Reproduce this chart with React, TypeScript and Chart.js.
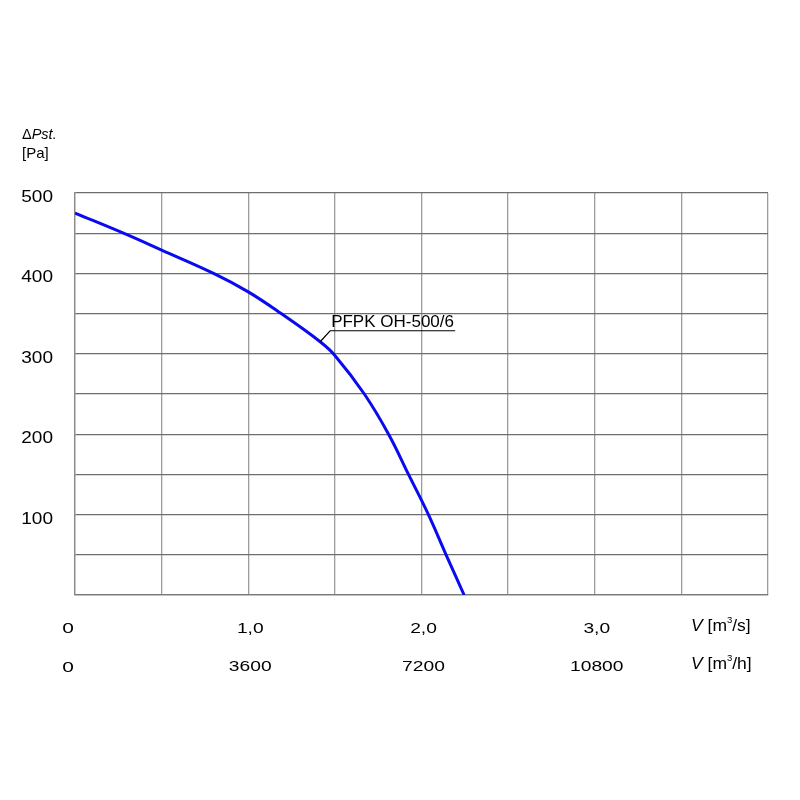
import { useEffect, useRef } from "react";
import { Chart, registerables } from "chart.js";

Chart.register(...registerables);

// ---- data ----
const flowM3s = [0, 0.28, 0.5, 0.8, 1.0, 1.19, 1.415, 1.5, 1.67, 1.81, 1.925, 2.04, 2.142, 2.246];
const pressurePa = [475, 450, 429, 400, 377, 350, 315, 298, 250, 200, 150, 100, 50, 0];
const seriesName = "PFPK OH-500/6";
const yTickValues = [100, 200, 300, 400, 500];
const yTickLabels = ["100", "200", "300", "400", "500"];
const xTickValues = [0, 1, 2, 3];
const xTickLabelsS = ["0", "1,0", "2,0", "3,0"];
const xTickLabelsH = ["0", "3600", "7200", "10800"];
const yTitleSymbol = "Δ";
const yTitleName = "Pst.";
const yTitleUnit = "[Pa]";
const xTitleSymbol = "V";
const xTitleUnitS = ["[m", "3", "/s]"];
const xTitleUnitH = ["[m", "3", "/h]"];
const labelAnchor = { x: 1.415, y: 315 };

const FONT = '"Liberation Sans", Arial, sans-serif';

type Seg = { t: string; size: number; italic?: boolean; rise?: number };

function drawRun(ctx: CanvasRenderingContext2D, segs: Seg[], x: number, y: number, sx: number, align: "left" | "right" | "center") {
  ctx.save();
  ctx.textBaseline = "alphabetic";
  ctx.textAlign = "left";
  let total = 0;
  const widths = segs.map((s) => {
    ctx.font = `${s.italic ? "italic " : ""}${s.size}px ${FONT}`;
    const w = ctx.measureText(s.t).width;
    total += w;
    return w;
  });
  const start = align === "left" ? 0 : align === "right" ? -total : -total / 2;
  ctx.translate(x, y);
  ctx.scale(sx, 1);
  let cx = start;
  segs.forEach((s, i) => {
    ctx.font = `${s.italic ? "italic " : ""}${s.size}px ${FONT}`;
    ctx.fillText(s.t, cx, -(s.rise || 0));
    cx += widths[i];
  });
  ctx.restore();
}

const textPlugin = {
  id: "fanTexts",
  afterDraw(chart: any) {
    const ctx: CanvasRenderingContext2D = chart.ctx;
    const xs = chart.scales.x;
    const ys = chart.scales.y;
    ctx.save();
    ctx.fillStyle = "#000";

    // y tick labels
    yTickValues.forEach((v, i) => {
      drawRun(ctx, [{ t: yTickLabels[i], size: 17 }], 53, ys.getPixelForValue(v) + 9, 1.12, "right");
    });

    // y title
    drawRun(ctx, [{ t: yTitleSymbol, size: 14.5 }, { t: yTitleName, size: 14.5, italic: true }], 22, 138.5, 1, "left");
    drawRun(ctx, [{ t: yTitleUnit, size: 15 }], 22, 157.5, 1, "left");

    // x tick labels (two rows)
    xTickValues.forEach((v, i) => {
      const px = xs.getPixelForValue(v);
      if (i === 0) {
        drawRun(ctx, [{ t: xTickLabelsS[i], size: 15.5 }], px - 1, 632.5, 1.35, "right");
        drawRun(ctx, [{ t: xTickLabelsH[i], size: 15.5 }], px - 1, 672, 1.35, "right");
      } else {
        drawRun(ctx, [{ t: xTickLabelsS[i], size: 15.5 }], px + 2, 632.5, 1.24, "center");
        drawRun(ctx, [{ t: xTickLabelsH[i], size: 15.5 }], px + 2, 670.5, 1.24, "center");
      }
    });

    // x titles
    const titleRow = (unit: string[], baseline: number) =>
      drawRun(
        ctx,
        [
          { t: xTitleSymbol, size: 16.5, italic: true },
          { t: " " + unit[0], size: 16.5 },
          { t: unit[1], size: 9, rise: 7.5 },
          { t: unit[2], size: 16.5 },
        ],
        691,
        baseline,
        1.06,
        "left"
      );
    titleRow(xTitleUnitS, 630.5);
    titleRow(xTitleUnitH, 668.5);

    // series annotation with leader
    const ax = xs.getPixelForValue(labelAnchor.x);
    const ay = ys.getPixelForValue(labelAnchor.y);
    ctx.strokeStyle = "#000";
    ctx.lineWidth = 1.2;
    ctx.beginPath();
    ctx.moveTo(ax, ay);
    ctx.lineTo(ax + 10, ay - 11);
    ctx.lineTo(ax + 135, ay - 11);
    ctx.stroke();
    drawRun(ctx, [{ t: seriesName, size: 17 }], ax + 11, ay - 14.5, 1, "left");

    ctx.restore();
  },
};

export default function App() {
  const ref = useRef<HTMLCanvasElement | null>(null);

  useEffect(() => {
    if (!ref.current) return;
    const chart = new Chart(ref.current, {
      type: "scatter",
      data: {
        datasets: [
          {
            label: seriesName,
            data: flowM3s.map((x, i) => ({ x, y: pressurePa[i] })),
            showLine: true,
            borderColor: "#0a0af0",
            borderWidth: 3,
            pointRadius: 0,
            tension: 0.4,
          },
        ],
      },
      options: {
        animation: false,
        responsive: false,
        devicePixelRatio: 1,
        layout: { padding: { left: 75, top: 193, right: 32, bottom: 205 } },
        plugins: { legend: { display: false }, tooltip: { enabled: false } },
        scales: {
          x: {
            type: "linear",
            min: 0,
            max: 4,
            ticks: { display: false, stepSize: 0.5 },
            grid: { color: "#9c9c9c", lineWidth: 1.3, drawTicks: false },
            border: { color: "#7a7a7a", width: 1.3 },
          },
          y: {
            type: "linear",
            min: 0,
            max: 500,
            ticks: { display: false, stepSize: 50 },
            grid: { color: "#6e6e6e", lineWidth: 1.2, drawTicks: false },
            border: { color: "#8a8a8a", width: 1.3 },
          },
        },
      },
      plugins: [textPlugin],
    });
    return () => chart.destroy();
  }, []);

  return (
    <div style={{ position: "fixed", left: 0, top: 0, width: 800, height: 800, background: "#fff" }}>
      <canvas ref={ref} width={800} height={800} style={{ width: 800, height: 800 }} />
    </div>
  );
}
